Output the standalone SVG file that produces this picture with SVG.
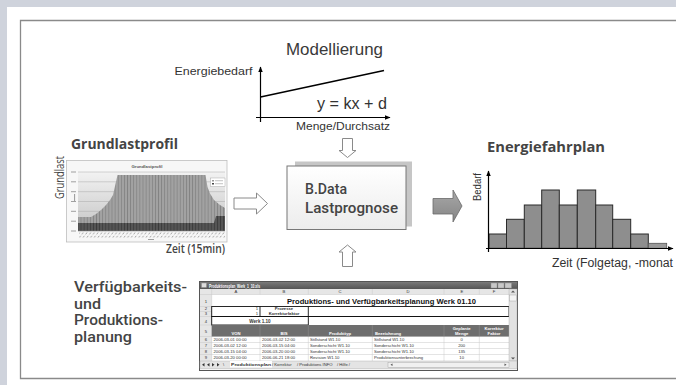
<svg xmlns="http://www.w3.org/2000/svg" width="676" height="385" viewBox="0 0 676 385">
<style>
.ar{font-family:"Liberation Sans",Arial,sans-serif}
.os{font-family:"Open Sans","Segoe UI",sans-serif}
.rb{font-family:Roboto,"Open Sans",sans-serif}
.ttl{font-family:"Open Sans","Segoe UI",sans-serif;font-weight:700;fill:#444}
.lbl{font-family:"Liberation Sans",Arial,sans-serif;fill:#333}
.ax{stroke:#000;stroke-width:1.2;fill:none}
.hollow{fill:#fff;stroke:#8a8a8a;stroke-width:1}
.bar{fill:#8e8e8e;stroke:#2a2a2a;stroke-width:1}
.grid{stroke:#a8a8a8;stroke-width:0.5}
.xs{font-family:"Liberation Sans",Arial,sans-serif;font-size:4.2px;fill:#333}
.xh{font-family:"Liberation Sans",Arial,sans-serif;font-size:4.2px;fill:#fff;font-weight:700}
.cell{stroke:#c8c8c8;stroke-width:0.5}
</style>
<defs>
<marker id="ah" viewBox="0 0 10 10" refX="9" refY="5" markerWidth="6" markerHeight="6" orient="auto" markerUnits="userSpaceOnUse">
<path d="M0,1 L10,5 L0,9 z" fill="#000"/>
</marker>
<linearGradient id="boxg" x1="0" y1="0" x2="0" y2="1">
<stop offset="0" stop-color="#ffffff"/>
<stop offset="1" stop-color="#ececec"/>
</linearGradient>
<linearGradient id="arrg" x1="0" y1="0" x2="0" y2="1">
<stop offset="0" stop-color="#a8a8a8"/>
<stop offset="1" stop-color="#858585"/>
</linearGradient>
<linearGradient id="plotg" x1="0" y1="0" x2="0" y2="1">
<stop offset="0" stop-color="#f2f2f2"/>
<stop offset="1" stop-color="#c4c4c4"/>
</linearGradient>
<linearGradient id="titleg" x1="0" y1="0" x2="0" y2="1">
<stop offset="0" stop-color="#7a7a7a"/>
<stop offset="1" stop-color="#555"/>
</linearGradient>
<pattern id="stripes" width="3.1" height="10" patternUnits="userSpaceOnUse">
<rect width="3.1" height="10" fill="#a2a2a2"/>
<rect width="0.8" height="10" fill="#828282"/>
</pattern>
<pattern id="dstripes" width="3.1" height="10" patternUnits="userSpaceOnUse">
<rect width="3.1" height="10" fill="#555"/>
<rect width="0.8" height="10" fill="#3a3a3a"/>
</pattern>
<pattern id="xlab" width="3.7" height="5" patternUnits="userSpaceOnUse">
<line x1="0.6" y1="4.4" x2="3" y2="0.8" stroke="#888" stroke-width="0.8"/>
</pattern>
</defs>

<!-- frame -->
<rect x="0" y="0" width="676" height="385" fill="#cfd3dc"/>
<rect x="7" y="7" width="669" height="378" fill="#fff"/>
<path d="M676,20.5 H20.5 V378.5 H676" fill="none" stroke="#8a8a8a" stroke-width="1.3"/>

<!-- Modellierung -->
<g id="modellierung">
<text class="ar" x="286" y="55" font-size="17" fill="#3a3a3a" textLength="97" lengthAdjust="spacingAndGlyphs">Modellierung</text>
<line class="ax" x1="260.5" y1="122" x2="260.5" y2="67" marker-end="url(#ah)"/>
<line class="ax" x1="256" y1="117.5" x2="390" y2="117.5" marker-end="url(#ah)"/>
<line x1="260.5" y1="97" x2="384" y2="70.5" stroke="#000" stroke-width="1.5"/>
<text class="lbl" x="252.5" y="75" font-size="11" text-anchor="end" textLength="78" lengthAdjust="spacingAndGlyphs">Energiebedarf</text>
<text class="ar" x="317" y="109" font-size="16" fill="#333" textLength="70" lengthAdjust="spacingAndGlyphs">y = kx + d</text>
<text class="lbl" x="296" y="130" font-size="11" textLength="94" lengthAdjust="spacingAndGlyphs">Menge/Durchsatz</text>
</g>

<!-- Grundlastprofil -->
<g id="grundlastprofil">
<text class="ttl" x="71" y="149" font-size="15" textLength="107" lengthAdjust="spacingAndGlyphs">Grundlastprofil</text>
<text class="os" x="0" y="0" font-size="12.5" fill="#444" transform="translate(64,199) rotate(-90)" textLength="43" lengthAdjust="spacingAndGlyphs">Grundlast</text>
<rect x="66.5" y="160.5" width="160.5" height="81.5" fill="#f7f7f7" stroke="#bdbdbd" stroke-width="0.8"/>
<text x="147" y="167.5" font-size="4.3" font-weight="700" text-anchor="middle" class="ar" fill="#555">Grundlastprofil</text>
<rect x="78" y="172" width="147" height="59" fill="url(#plotg)"/>
<g class="grid">
<line x1="78" y1="172" x2="225" y2="172"/>
<line x1="78" y1="181.8" x2="225" y2="181.8"/>
<line x1="78" y1="191.7" x2="225" y2="191.7"/>
<line x1="78" y1="201.5" x2="225" y2="201.5"/>
<line x1="78" y1="211.3" x2="225" y2="211.3"/>
<line x1="78" y1="221.2" x2="225" y2="221.2"/>
</g>
<polygon points="78,217 91,217 96,214 101,210 106,205 110,200 113,195 117.5,175 205.5,175 207.5,187 210,193.5 214,200 220,205 225,208 225,231 78,231" fill="url(#stripes)"/>
<polygon points="78,223 214,223 216,216 225,216 225,231 78,231" fill="url(#dstripes)"/>
<line x1="78" y1="231" x2="225" y2="231" stroke="#888" stroke-width="0.6"/>
<g fill="#a0a0a0">
<rect x="71" y="171.5" width="5" height="1"/>
<rect x="71" y="181.3" width="5" height="1"/>
<rect x="71" y="191.2" width="5" height="1"/>
<rect x="71" y="201" width="5" height="1"/>
<rect x="71" y="210.8" width="5" height="1"/>
<rect x="71" y="220.7" width="5" height="1"/>
<rect x="71" y="230.5" width="5" height="1"/>
<rect x="74" y="194" width="1.1" height="8"/>
<rect x="148" y="239" width="6" height="1"/>
</g>
<rect x="79" y="232.5" width="146" height="5" fill="url(#xlab)"/>
<rect x="210.5" y="178" width="14.5" height="8.5" fill="#fff" stroke="#999" stroke-width="0.4"/>
<rect x="212" y="180" width="2" height="1.5" fill="#999"/>
<rect x="215" y="180.3" width="8" height="0.9" fill="#bbb"/>
<rect x="212" y="183" width="2" height="1.5" fill="#444"/>
<rect x="215" y="183.3" width="8" height="0.9" fill="#bbb"/>
<text class="os" x="166" y="253" font-size="12.5" font-weight="600" fill="#444" textLength="59" lengthAdjust="spacingAndGlyphs">Zeit (15min)</text>
</g>

<!-- B.Data box -->
<g id="bdata">
<rect x="295" y="161.5" width="117" height="65" fill="#c6c6c6"/>
<rect x="287" y="166" width="119" height="63.5" fill="url(#boxg)" stroke="#777" stroke-width="1"/>
<text class="rb" x="305" y="194" font-size="14.8" font-weight="500" fill="#444" textLength="42" lengthAdjust="spacingAndGlyphs">B.Data</text>
<text class="rb" x="305" y="212.5" font-size="14.8" font-weight="500" fill="#444" textLength="93" lengthAdjust="spacingAndGlyphs">Lastprognose</text>
</g>

<!-- Energiefahrplan -->
<g id="energiefahrplan">
<text class="ttl" x="487" y="152" font-size="15" textLength="118" lengthAdjust="spacingAndGlyphs">Energiefahrplan</text>
<text class="lbl" x="0" y="0" font-size="11" transform="translate(481,201) rotate(-90)" textLength="28" lengthAdjust="spacingAndGlyphs">Bedarf</text>
<rect class="bar" x="489" y="234" width="17.5" height="14.3"/>
<rect class="bar" x="506.5" y="219.3" width="17.8" height="29"/>
<rect class="bar" x="524.3" y="205" width="17.4" height="43.3"/>
<rect class="bar" x="541.7" y="190" width="17.6" height="58.3"/>
<rect class="bar" x="559.3" y="205" width="18" height="43.3"/>
<rect class="bar" x="577.3" y="190" width="18.4" height="58.3"/>
<rect class="bar" x="595.7" y="205" width="17" height="43.3"/>
<rect class="bar" x="612.7" y="219.3" width="18" height="29"/>
<rect class="bar" x="630.7" y="234" width="17.6" height="14.3"/>
<rect x="648.3" y="243.3" width="18.4" height="5" fill="#9a9a9a" stroke="#555" stroke-width="0.8"/>
<line class="ax" x1="488.5" y1="252" x2="488.5" y2="171" marker-end="url(#ah)"/>
<line class="ax" x1="486" y1="248.5" x2="673" y2="248.5" marker-end="url(#ah)"/>
<text class="lbl" x="552" y="267" font-size="12" textLength="121" lengthAdjust="spacingAndGlyphs">Zeit (Folgetag, -monat</text>
</g>

<!-- Verfuegbarkeits- und Produktionsplanung -->
<g id="planung">
<g class="rb" font-size="13.8" font-weight="500" fill="#444">
<text x="74" y="292" textLength="113" lengthAdjust="spacingAndGlyphs">Verfügbarkeits-</text>
<text x="74" y="308.5" textLength="27" lengthAdjust="spacingAndGlyphs">und</text>
<text x="74" y="325" textLength="89" lengthAdjust="spacingAndGlyphs">Produktions-</text>
<text x="74" y="341.5" textLength="58" lengthAdjust="spacingAndGlyphs">planung</text>
</g>
</g>

<!-- spreadsheet -->
<g id="spreadsheet">
<rect x="199.5" y="281.5" width="318" height="89" fill="#f4f4f4" stroke="#555" stroke-width="1"/>
<rect x="200" y="282" width="317" height="7" fill="url(#titleg)"/>
<rect x="201.5" y="283" width="5" height="4.5" fill="#ddd" stroke="#888" stroke-width="0.4"/>
<text x="209" y="287.6" font-size="5" font-weight="700" fill="#fff" class="ar" textLength="51" lengthAdjust="spacingAndGlyphs">Produktionsplan_Werk_1_10.xls</text>
<g fill="#c8c8c8" stroke="#888" stroke-width="0.4">
<rect x="491" y="283" width="6" height="5"/>
<rect x="498" y="283" width="6" height="5"/>
<rect x="505" y="283" width="6.5" height="5"/>
</g>
<!-- grid area -->
<rect x="200" y="289" width="309" height="72" fill="#fff"/>
<rect x="200" y="289" width="309" height="5.5" fill="#e6e6e6"/>
<rect x="200" y="289" width="11.7" height="72" fill="#e6e6e6"/>
<g class="cell">
<line x1="211.7" y1="289" x2="211.7" y2="361"/>
<line x1="260" y1="289" x2="260" y2="294.5"/>
<line x1="308.3" y1="289" x2="308.3" y2="294.5"/>
<line x1="372.3" y1="289" x2="372.3" y2="294.5"/>
<line x1="444" y1="289" x2="444" y2="294.5"/>
<line x1="479.3" y1="289" x2="479.3" y2="294.5"/>
<line x1="200" y1="294.5" x2="509" y2="294.5"/>
<line x1="200" y1="306.5" x2="211.7" y2="306.5"/>
<line x1="200" y1="311.5" x2="211.7" y2="311.5"/>
<line x1="200" y1="316.5" x2="211.7" y2="316.5"/>
<line x1="200" y1="325" x2="211.7" y2="325"/>
<line x1="200" y1="336.5" x2="509" y2="336.5"/>
<line x1="200" y1="342.5" x2="509" y2="342.5"/>
<line x1="200" y1="348.5" x2="509" y2="348.5"/>
<line x1="200" y1="354.5" x2="509" y2="354.5"/>
<line x1="260" y1="336.5" x2="260" y2="361"/>
<line x1="308.3" y1="336.5" x2="308.3" y2="361"/>
<line x1="372.3" y1="336.5" x2="372.3" y2="361"/>
<line x1="444" y1="336.5" x2="444" y2="361"/>
<line x1="479.3" y1="336.5" x2="479.3" y2="361"/>
</g>
<g class="xs" text-anchor="middle" fill="#555">
<text x="236" y="293.3">A</text>
<text x="284" y="293.3">B</text>
<text x="340" y="293.3">C</text>
<text x="408" y="293.3">D</text>
<text x="462" y="293.3">E</text>
<text x="494" y="293.3">F</text>
<text x="206" y="302.5">1</text>
<text x="206" y="310.3">2</text>
<text x="206" y="315.3">3</text>
<text x="206" y="322.5">4</text>
<text x="206" y="332.5">5</text>
<text x="206" y="341">6</text>
<text x="206" y="347">7</text>
<text x="206" y="353">8</text>
<text x="206" y="359">9</text>
</g>
<text x="381.5" y="303.5" font-size="7.5" font-weight="700" class="ar" fill="#111" text-anchor="middle" textLength="189" lengthAdjust="spacingAndGlyphs">Produktions- und Verfügbarkeitsplanung Werk 01.10</text>
<g fill="none" stroke="#111" stroke-width="0.9">
<rect x="211.7" y="306.5" width="297.3" height="10"/>
<line x1="260" y1="306.5" x2="260" y2="316.5"/>
<line x1="308.3" y1="306.5" x2="308.3" y2="316.5"/>
<rect x="211.7" y="316.5" width="96.6" height="8.5"/>
<line x1="308.3" y1="316.5" x2="509" y2="316.5"/>
</g>
<g class="xs">
<text x="258" y="310.3" text-anchor="end">1</text>
<text x="258" y="315.3" text-anchor="end">1</text>
<text x="284" y="310.3" text-anchor="middle" font-weight="700">Prozesse</text>
<text x="284" y="315.3" text-anchor="middle" font-weight="700">Korrekturfaktor</text>
<text x="260" y="322.5" text-anchor="middle" font-weight="700" font-size="4.6">Werk 1.10</text>
</g>
<rect x="211.7" y="325" width="297.3" height="11.5" fill="#6e6e6e"/>
<g stroke="#999" stroke-width="0.4">
<line x1="260" y1="325" x2="260" y2="336.5"/>
<line x1="308.3" y1="325" x2="308.3" y2="336.5"/>
<line x1="372.3" y1="325" x2="372.3" y2="336.5"/>
<line x1="444" y1="325" x2="444" y2="336.5"/>
<line x1="479.3" y1="325" x2="479.3" y2="336.5"/>
</g>
<g class="xh">
<text x="236" y="334.5" text-anchor="middle">VON</text>
<text x="284" y="334.5" text-anchor="middle">BIS</text>
<text x="340" y="334.5" text-anchor="middle">Produkttyp</text>
<text x="375" y="334.5">Bezeichnung</text>
<text x="461.7" y="330" text-anchor="middle">Geplante</text>
<text x="461.7" y="334.8" text-anchor="middle">Menge</text>
<text x="494" y="330" text-anchor="middle">Korrektur</text>
<text x="494" y="334.8" text-anchor="middle">Faktor</text>
</g>
<g class="xs">
<text x="213.5" y="341">2006-03-01 00:00</text>
<text x="262" y="341">2006-03-02 12:00</text>
<text x="310" y="341">Stillstand W1.10</text>
<text x="374" y="341">Stillstand W1.10</text>
<text x="461.7" y="341" text-anchor="middle">0</text>
<text x="213.5" y="347">2006-03-02 12:00</text>
<text x="262" y="347">2006-03-15 04:00</text>
<text x="310" y="347">Sonderschicht W1.10</text>
<text x="374" y="347">Sonderschicht W1.10</text>
<text x="461.7" y="347" text-anchor="middle">200</text>
<text x="213.5" y="353">2006-03-15 04:00</text>
<text x="262" y="353">2006-03-20 00:00</text>
<text x="310" y="353">Sonderschicht W1.10</text>
<text x="374" y="353">Sonderschicht W1.10</text>
<text x="461.7" y="353" text-anchor="middle">135</text>
<text x="213.5" y="359">2006-03-20 00:00</text>
<text x="262" y="359">2006-06-21 18:00</text>
<text x="310" y="359">Revision W1.10</text>
<text x="374" y="359">Produktionsunterbrechung</text>
<text x="461.7" y="359" text-anchor="middle">10</text>
</g>
<!-- vertical scrollbar -->
<rect x="509" y="289" width="8" height="72" fill="#e2e2e2" stroke="#aaa" stroke-width="0.4"/>
<rect x="509.5" y="295" width="7" height="6" fill="#f4f4f4" stroke="#999" stroke-width="0.4"/>
<path d="M511,292.5 L513,290.5 L515,292.5 z" fill="#555"/>
<path d="M511,357.5 L513,359.5 L515,357.5 z" fill="#555"/>
<!-- tab bar -->
<rect x="200" y="361" width="317" height="7.5" fill="#e4e4e4" stroke="#aaa" stroke-width="0.4"/>
<g fill="#333">
<path d="M202,364.7 L204.5,363 V366.4 z"/>
<path d="M207,364.7 L209.5,363 V366.4 z"/>
<path d="M214.5,364.7 L212,363 V366.4 z"/>
<path d="M219.5,364.7 L217,363 V366.4 z"/>
</g>
<rect x="230" y="361" width="42" height="6.5" fill="#fff"/>
<g class="xs" font-size="4.5">
<text x="223" y="366.3">\</text>
<text x="231" y="366.3" font-weight="700" textLength="40" lengthAdjust="spacingAndGlyphs">Produktionsplan</text>
<text x="272" y="366.3">/ Korrektur</text>
<text x="297" y="366.3">/ Produktions INFO</text>
<text x="337" y="366.3">/ Hilfe /</text>
</g>
<rect x="388" y="362.2" width="121" height="5" fill="#f0f0f0" stroke="#999" stroke-width="0.4"/>
<path d="M392.5,363.5 L390.5,364.7 L392.5,365.9 z" fill="#555"/>
<path d="M504.5,363.5 L506.5,364.7 L504.5,365.9 z" fill="#555"/>
</g>

<!-- connectors -->
<g id="connectors">
<polygon class="hollow" points="342.5,138.5 352.5,138.5 352.5,150.5 356,150.5 347.5,157.5 339,150.5 342.5,150.5"/>
<polygon class="hollow" points="347.5,245 356,252 352.5,252 352.5,266.5 342.5,266.5 342.5,252 339,252"/>
<polygon class="hollow" points="234,198 256.5,198 256.5,193 267.5,203.5 256.5,214 256.5,209 234,209"/>
<polygon points="433,198.5 453,198.5 453,190 462,206 453,222 453,214 433,214" fill="url(#arrg)" stroke="#6a6a6a" stroke-width="0.8"/>
</g>
</svg>
